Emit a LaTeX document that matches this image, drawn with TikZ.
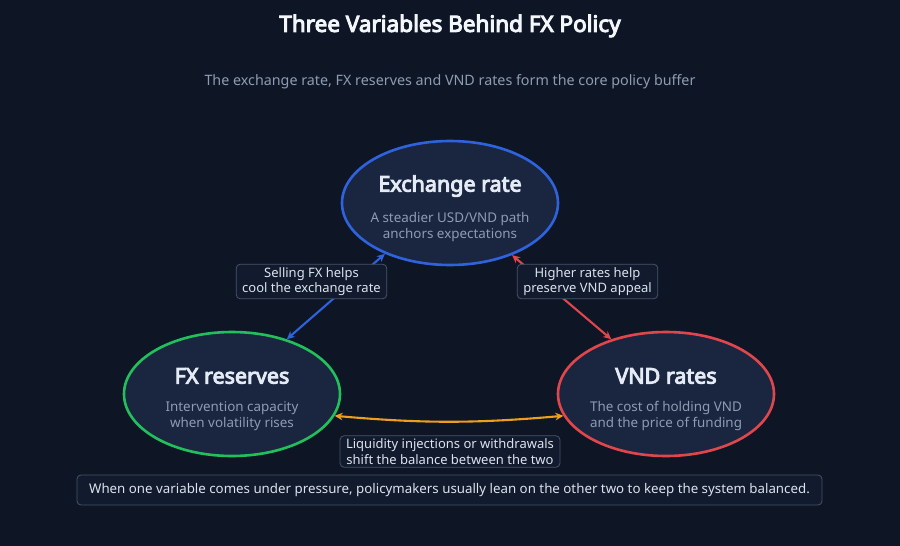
\documentclass[tikz,border=0pt]{standalone}
\usepackage{fontspec}
\setmainfont{Noto Sans}[BoldFont={Noto Sans},BoldFeatures={FakeBold=4.5}]
\usetikzlibrary{shapes.geometric,arrows.meta}
\definecolor{bg}{HTML}{0E1626}
\definecolor{ellfill}{HTML}{1A2540}
\definecolor{boxfill}{HTML}{121B2D}
\definecolor{boxline}{HTML}{46536A}
\definecolor{titlec}{HTML}{F3F6FA}
\definecolor{headc}{HTML}{E4EBF5}
\definecolor{subc}{HTML}{8E9CB2}
\definecolor{lblc}{HTML}{DCE3EE}
\definecolor{cblue}{HTML}{2E63DD}
\definecolor{cgreen}{HTML}{22C05A}
\definecolor{cred}{HTML}{E0474C}
\definecolor{corange}{HTML}{EE9D1F}
\tikzset{
  ell/.style={ellipse, draw=#1, line width=2.6pt, fill=ellfill, minimum width=216pt, minimum height=124pt, inner sep=0pt},
  head/.style={text=headc, font=\fontsize{21.5}{24}\selectfont\bfseries},
  subt/.style={text=subc, font=\fontsize{13.4}{15.5}\selectfont, align=center},
  lbl/.style={draw=boxline, line width=0.8pt, fill=boxfill, rounded corners=4pt, text=lblc, font=\fontsize{13}{15.5}\selectfont, align=center, inner xsep=6pt, inner ysep=3pt},
  conn/.style={line width=2.1pt, {Stealth[length=8pt,width=7.5pt]}-{Stealth[length=8pt,width=7.5pt]}}
}
\begin{document}
\begin{tikzpicture}[x=1pt,y=-1pt]
\fill[bg] (0,0) rectangle (900,546);
\useasboundingbox (0,0) rectangle (900,546);
\node[text=titlec, font=\fontsize{22.5}{26}\selectfont\bfseries] (title) at (450,26) {Three Variables Behind FX Policy};
\node[text=subc, font=\fontsize{14.3}{17}\selectfont] (sub) at (450,82) {The exchange rate, FX reserves and VND rates form the core policy buffer};

\node[ell=cblue] (ex) at (450,203) {};
\node[ell=cgreen] (fx) at (232,394) {};
\node[ell=cred] (vnd) at (666,394) {};

\node[head] (exh) at (450,186) {Exchange rate};
\node[subt] (exs) at (450,227) {A steadier USD/VND path\\anchors expectations};
\node[head] (fxh) at (232,376) {FX reserves};
\node[subt] (fxs) at (232,416) {Intervention capacity\\when volatility rises};
\node[head] (vndh) at (666,376) {VND rates};
\node[subt] (vnds) at (666,416) {The cost of holding VND\\and the price of funding};

\draw[conn, cblue] (ex.218) -- (fx.45);
\draw[conn, cred] (ex.320) -- (vnd.135);
\draw[conn, corange] (fx.348) to[bend right=5] (vnd.192);

\node[lbl] (l1) at (311.5,281.5) {Selling FX helps\\cool the exchange rate};
\node[lbl] (l2) at (587.5,281.5) {Higher rates help\\preserve VND appeal};
\node[lbl] (l3) at (450,451.5) {Liquidity injections or withdrawals\\shift the balance between the two};
\node[lbl, minimum width=745pt, minimum height=30pt, font=\fontsize{13.3}{16}\selectfont] (note) at (449.5,490) {When one variable comes under pressure, policymakers usually lean on the other two to keep the system balanced.};
\end{tikzpicture}
\end{document}
